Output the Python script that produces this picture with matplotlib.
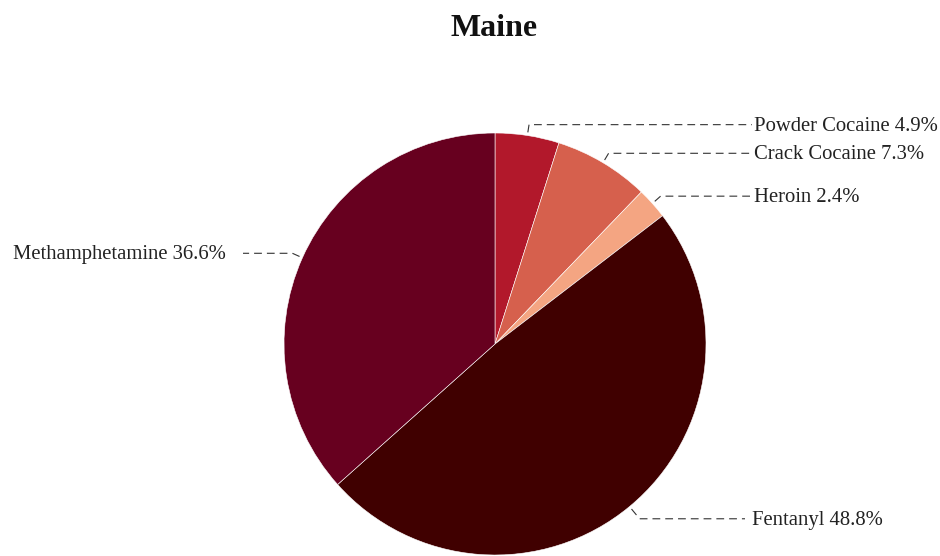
import matplotlib
matplotlib.use("Agg")
import matplotlib.pyplot as plt
import numpy as np

title = "Maine"
categories = ["Powder Cocaine", "Crack Cocaine", "Heroin", "Fentanyl", "Methamphetamine"]
values = [4.9, 7.3, 2.4, 48.8, 36.6]
colors = ["#b2182b", "#d6604d", "#f4a582", "#400000", "#67001f"]

plt.rcParams['font.family'] = ['Liberation Serif', 'DejaVu Serif']

W, H = 940, 556
fig = plt.figure(figsize=(W / 100, H / 100), dpi=100)
ax = fig.add_axes([0, 0, 1, 1])

cx, cy, R = 495, H - 344, 211
wedges, _ = ax.pie(values, colors=colors, startangle=90, counterclock=False,
                   center=(cx, cy), radius=R,
                   wedgeprops=dict(edgecolor="#ffffff", linewidth=0.4))
ax.set_xlim(0, W)
ax.set_ylim(0, H)
ax.axis('off')

total = sum(values)
cum = 0
for cat, v in zip(categories, values):
    mid = (cum + v / 2) / total * 2 * np.pi
    cum += v
    sx, sy = np.sin(mid), np.cos(mid)
    relb = 1.075 if cat == "Fentanyl" else 1.052
    p0 = (cx + R * 1.015 * sx, cy + R * 1.015 * sy)
    p1 = (cx + R * relb * sx, cy + R * relb * sy)
    if sx >= 0:
        xend = 752 if cat != "Fentanyl" else 745
        xt, ha = 754 if cat != "Fentanyl" else 752, 'left'
    else:
        xend = 243
        xt, ha = 226, 'right'
    ax.plot([p0[0], p1[0], xend], [p0[1], p1[1], p1[1]], color="#333333",
            lw=0.8, linestyle=(0, (7, 4.5)), solid_capstyle='butt')
    ax.text(xt, p1[1] - 1.5, f"{cat} {v}%", ha=ha, va='center', fontsize=14.85,
            color="#222222")

fig.text(494 / W, 1 - 28 / H, title, ha='center', va='center',
         fontsize=23, fontweight='bold', color="#111111")

fig.savefig("out.png", dpi=100)
